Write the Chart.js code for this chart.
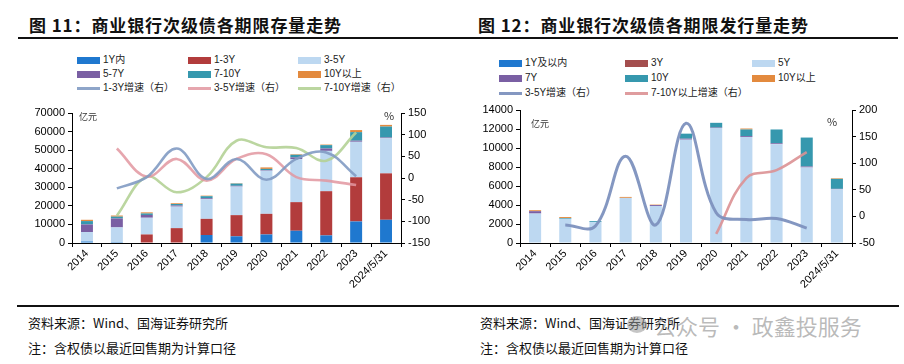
<!DOCTYPE html>
<html>
<head>
<meta charset="utf-8">
<script src="https://cdn.jsdelivr.net/npm/chart.js@4.4.1/dist/chart.umd.min.js"></script>
<style>
  body { margin: 0; width: 904px; height: 364px; background: #fff; position: relative; overflow: hidden;
         font-family: "Liberation Sans", "Noto Sans CJK SC", sans-serif; }
  .abs { position: absolute; white-space: nowrap; }
  .title { font-family: "Noto Sans CJK SC"; font-weight: 700; font-size: 17px; letter-spacing: 0.9px; color: #111; top: 12px; }
  .rule { position: absolute; background: #111; }
  .lg { position: absolute; font-size: 10px; color: #222; line-height: 12px; white-space: nowrap; }
  .sw { position: absolute; left: 0; }
  .note { font-family: "Noto Sans CJK SC"; font-size: 13px; color: #111; }
  .unit { font-size: 9px; color: #333; font-family: "Noto Sans CJK SC"; }
</style>
</head>
<body>

<div class="abs title" style="left:29px">图 11：商业银行次级债各期限存量走势</div>
<div class="abs title" style="left:478px">图 12：商业银行次级债各期限发行量走势</div>
<div class="rule" style="left:18px;top:37px;width:880px;height:2px"></div>

<div id="legendL"></div>
<div id="legendR"></div>

<div class="abs" style="left:0;top:100px"><canvas id="stockChart" width="450" height="205"></canvas></div>
<div class="abs" style="left:450px;top:100px"><canvas id="issueChart" width="454" height="205"></canvas></div>

<div class="abs unit" style="left:79px;top:110px">亿元</div>
<div class="abs unit" style="left:384px;top:107px;font-size:11px">%</div>
<div class="abs unit" style="left:531px;top:117px">亿元</div>
<div class="abs unit" style="left:827px;top:113px;font-size:11px">%</div>

<div class="rule" style="left:17px;top:305px;width:882px;height:1.5px"></div>
<div class="abs note" style="left:28px;top:313px">资料来源：Wind、国海证券研究所</div>
<div class="abs note" style="left:28px;top:338px">注：含权债以最近回售期为计算口径</div>
<div class="abs note" style="left:480px;top:313px">资料来源：Wind、国海证券研究所</div>
<div class="abs note" style="left:480px;top:338px">注：含权债以最近回售期为计算口径</div>
<div class="abs" style="left:627px;top:316px;width:20px;height:17px;border-radius:50%;background:rgba(150,150,150,0.55)"></div>
<div class="abs" style="left:654px;top:309px;font-family:'Noto Sans CJK SC';font-size:22px;color:rgba(140,140,140,0.6)">公众号 · 政鑫投服务</div>

<script>
// 横轴
const years = ['2014', '2015', '2016', '2017', '2018', '2019', '2020', '2021', '2022', '2023', '2024/5/31'];

// 图11 存量（亿元）
const stockNames = ['1Y内', '1-3Y', '3-5Y', '5-7Y', '7-10Y', '10Y以上'];
const stock1Y   = [800, 500, 0, 0, 4300, 3600, 4600, 6600, 4100, 11600, 12500];
const stock1to3 = [0, 0, 4600, 8000, 8700, 11400, 11100, 15400, 23800, 23800, 25000];
const stock3to5 = [5100, 7900, 9000, 11600, 10600, 15400, 23200, 23200, 21700, 19100, 18900];
const stock5to7 = [4100, 4800, 1500, 600, 500, 400, 300, 900, 1300, 600, 400];
const stock7to10 = [1800, 1000, 800, 800, 1100, 1200, 700, 1400, 1800, 4600, 5900];
const stock10up = [700, 600, 600, 400, 300, 200, 800, 300, 300, 1100, 900];

// 图11 增速（%，右轴）
const stockGrowthNames = ['1-3Y增速（右）', '3-5Y增速（右）', '7-10Y增速（右）'];
const growth1to3 = [null, -24, 2, 68, -2, 44, -4, 44, 59, 4, null];
const growth3to5 = [null, 68, 3, 44, -6, 44, 55, 2, -6, -16, null];
const growth7to10 = [null, -87, 3, -33, 2, 86, 71, 69, 40, 105, null];

// 图12 发行量（亿元）
const issueNames = ['1Y及以内', '3Y', '5Y', '7Y', '10Y', '10Y以上'];
const issue1Y  = [0, 0, 0, 0, 0, 0, 0, 0, 0, 0, 0];
const issue3Y  = [0, 0, 0, 0, 0, 0, 0, 0, 0, 0, 0];
const issue5Y  = [3100, 2550, 2200, 4750, 3900, 10880, 12100, 11150, 10400, 7950, 5650];
const issue7Y  = [250, 0, 0, 0, 100, 100, 50, 100, 100, 100, 50];
const issue10Y = [0, 80, 100, 0, 0, 530, 500, 700, 1450, 3050, 1050];
const issue10up = [100, 100, 0, 100, 40, 0, 0, 100, 0, 0, 60];

// 图12 增速（%，右轴）
const issueGrowthNames = ['3-5Y增速（右）', '7-10Y以上增速（右）'];
const issueGrowth3to5 = [null, -16, -18, 113, -16, 175, 7, -6, -4, -22, null];
const issueGrowth7to10 = [null, null, null, null, null, null, -33, 72, 87, 121, null];

// 颜色
const barColors = ['#1f78cf', '#b23c3c', '#bdd8f1', '#7a5fa3', '#3698ae', '#e38a3e'];
const issueBarColors = ['#1f78cf', '#a44e4e', '#bdd8f1', '#7a5fa3', '#3698ae', '#e38a3e'];
const stockLineColors = ['rgba(130,155,195,0.9)', 'rgba(226,150,160,0.85)', 'rgba(180,210,150,0.9)'];
const issueLineColors = ['rgba(125,145,190,0.95)', 'rgba(220,145,148,0.9)'];

// 图例
function buildLegend(id, items, cols, rows) {
    const box = document.getElementById(id);
    items.forEach((it, i) => {
        const d = document.createElement('div');
        d.className = 'lg';
        d.style.left = cols[i % 3] + 'px';
        d.style.top = (rows[Math.floor(i / 3)] - 6) + 'px';
        d.style.paddingLeft = '26px';
        const sw = document.createElement('span');
        sw.className = 'sw';
        sw.style.width = '23px';
        sw.style.background = it.color;
        if (it.line) { sw.style.height = '3px'; sw.style.top = '5px'; }
        else { sw.style.height = '7px'; sw.style.top = '3px'; }
        d.appendChild(sw);
        d.appendChild(document.createTextNode(it.name));
        box.appendChild(d);
    });
}

buildLegend('legendL',
    stockNames.map((n, i) => ({ name: n, color: barColors[i] }))
        .concat(stockGrowthNames.map((n, i) => ({ name: n, color: stockLineColors[i], line: true }))),
    [77, 188, 298], [60, 74, 88]);

buildLegend('legendR',
    issueNames.map((n, i) => ({ name: n, color: issueBarColors[i] }))
        .concat(issueGrowthNames.map((n, i) => ({ name: n, color: issueLineColors[i], line: true }))),
    [499, 625, 752], [63, 78, 93]);

// 公共坐标轴设置
const tickFont = { family: 'Liberation Sans', size: 11 };

function axes(yMax, yStep, y1Min, y1Max, yW, y1W) {
    return {
        x: {
            stacked: true,
            grid: { offset: true, drawOnChartArea: false, tickLength: 4, color: '#000' },
            border: { color: '#000' },
            ticks: { maxRotation: 45, minRotation: 45, autoSkip: false, font: tickFont, color: '#000', padding: 0 },
            afterFit: s => { s.height = 62; }
        },
        y: {
            stacked: true, min: 0, max: yMax,
            grid: { drawOnChartArea: false, tickLength: 4, color: '#000' },
            border: { color: '#000' },
            ticks: { stepSize: yStep, font: tickFont, color: '#000', callback: v => v },
            afterFit: s => { s.width = yW; }
        },
        y1: {
            position: 'right', min: y1Min, max: y1Max,
            grid: { drawOnChartArea: false, tickLength: 4, color: '#000' },
            border: { color: '#000' },
            ticks: { stepSize: 50, font: tickFont, color: '#000', callback: v => v },
            afterFit: s => { s.width = y1W; }
        }
    };
}

function barSet(label, data, color) {
    return { type: 'bar', label, data, backgroundColor: color, order: 1,
             barPercentage: 0.4, categoryPercentage: 1, yAxisID: 'y' };
}
function lineSet(label, data, color, width) {
    return { type: 'line', label, data, borderColor: color, borderWidth: width, order: 0,
             tension: 0.38, pointRadius: 0, fill: false, yAxisID: 'y1' };
}

// 图11
const stockSeries = [stock1Y, stock1to3, stock3to5, stock5to7, stock7to10, stock10up];
const stockGrowth = [growth1to3, growth3to5, growth7to10];
new Chart(document.getElementById('stockChart'), {
    type: 'bar',
    data: {
        labels: years,
        datasets: stockGrowth.map((g, i) => lineSet(stockGrowthNames[i], g, stockLineColors[i], 2.6))
            .concat(stockSeries.map((s, i) => barSet(stockNames[i], s, barColors[i])))
    },
    options: {
        responsive: false, animation: false,
        layout: { padding: { top: 13, left: 0, right: 0, bottom: 0 } },
        plugins: { legend: { display: false }, tooltip: { enabled: false } },
        scales: axes(70000, 10000, -150, 150, 72, 49)
    }
});

// 图12
const issueSeries = [issue1Y, issue3Y, issue5Y, issue7Y, issue10Y, issue10up];
const issueGrowth = [issueGrowth3to5, issueGrowth7to10];
new Chart(document.getElementById('issueChart'), {
    type: 'bar',
    data: {
        labels: years,
        datasets: issueGrowth.map((g, i) => lineSet(issueGrowthNames[i], g, issueLineColors[i], i === 0 ? 3 : 2.6))
            .concat(issueSeries.map((s, i) => barSet(issueNames[i], s, issueBarColors[i])))
    },
    options: {
        responsive: false, animation: false,
        layout: { padding: { top: 10, left: 0, right: 0, bottom: 0 } },
        plugins: { legend: { display: false }, tooltip: { enabled: false } },
        scales: axes(14000, 2000, -50, 200, 70, 52)
    }
});
</script>
</body>
</html>
